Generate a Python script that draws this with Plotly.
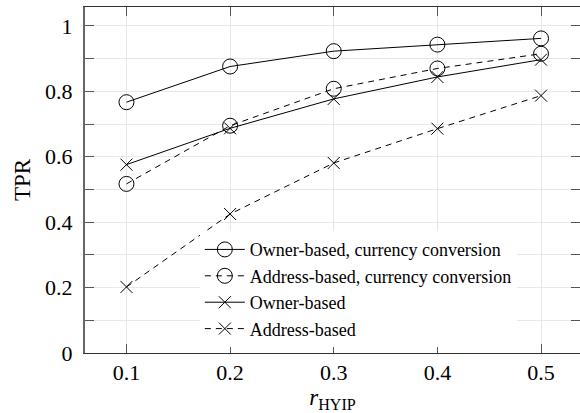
import plotly.graph_objects as go

x = [0.1, 0.2, 0.3, 0.4, 0.5]
owner_cc = [0.767, 0.876, 0.923, 0.943, 0.962]
address_cc = [0.517, 0.695, 0.808, 0.870, 0.915]
owner = [0.576, 0.687, 0.777, 0.844, 0.897]
address = [0.202, 0.425, 0.581, 0.686, 0.787]

names = ["Owner-based, currency conversion", "Address-based, currency conversion",
         "Owner-based", "Address-based"]
series = [owner_cc, address_cc, owner, address]
dashes = ["solid", "6px,5px", "solid", "6px,5px"]
symbols = ["circle-open", "circle-open", "x-thin-open", "x-thin-open"]
sizes = [15, 15, 12, 12]

FONT = "Liberation Serif"

fig = go.Figure()
for n, s, d, sym, sz in zip(names, series, dashes, symbols, sizes):
    fig.add_trace(go.Scatter(
        x=x, y=s, name=n, mode="lines+markers",
        line=dict(color="black", width=1, dash=d),
        marker=dict(symbol=sym, size=sz, color="black", line=dict(color="black", width=1)),
    ))

fig.update_layout(
    width=580, height=413,
    margin=dict(l=85, r=0, t=7, b=60, autoexpand=False),
    plot_bgcolor="white", paper_bgcolor="white",
    font=dict(family=FONT, size=22, color="black"),
    showlegend=True,
    legend=dict(
        x=0.232, y=0.352, xanchor="left", yanchor="top",
        bgcolor="white", borderwidth=0,
        font=dict(family=FONT, size=18, color="black"),
        itemwidth=40, tracegroupgap=0,
    ),
    xaxis=dict(
        range=[0.06, 0.5376], tickvals=x, ticktext=["0.1", "0.2", "0.3", "0.4", "0.5"],
        ticks="inside", ticklen=9, tickcolor="#555555",
        showgrid=True, gridcolor="#e8e8e8", gridwidth=1,
        showline=True, linecolor="#333333", linewidth=1, mirror="ticks",
        zeroline=False, automargin=False,
        title=dict(text="<i>r</i><sub>HYIP</sub>", font=dict(size=23), standoff=0),
    ),
    yaxis=dict(
        range=[0, 1.058], dtick=0.2, tick0=0,
        ticks="inside", ticklen=9, tickcolor="#555555",
        showgrid=True, gridcolor="#e8e8e8", gridwidth=1,
        minor=dict(dtick=0.1, ticks="inside", ticklen=9, tickcolor="#555555",
                   showgrid=True, gridcolor="#e8e8e8"),
        showline=True, linecolor="#666666", linewidth=2, mirror="ticks",
        zeroline=False, ticklabelstandoff=6, automargin=False,
        title=dict(text="TPR", font=dict(size=23), standoff=8),
    ),
)

fig.write_html(
    "out.html",
    config={"displayModeBar": False},
    post_script="document.body.style.margin='0';document.body.style.overflow='hidden';",
)
